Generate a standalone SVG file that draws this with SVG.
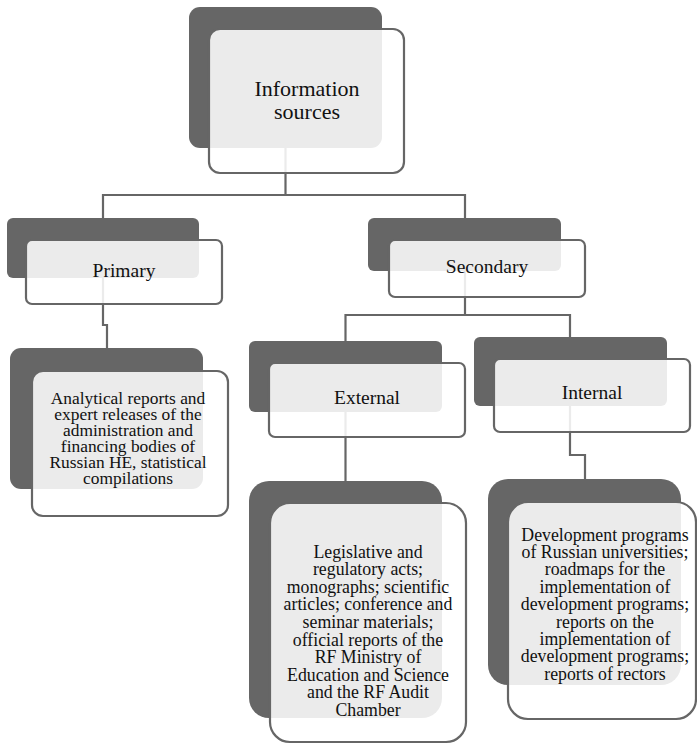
<svg xmlns="http://www.w3.org/2000/svg" width="697" height="744" viewBox="0 0 697 744" font-family="'Liberation Serif', 'Times New Roman', 'DejaVu Serif', serif">
<style>
.bg{fill:#fff}
.dk{fill:#666}
.fr{fill:#fff;fill-opacity:0.87;stroke:#666;stroke-width:2.2}
.cn{fill:none;stroke:#666;stroke-width:2.2}
text{font-family:'Liberation Serif','Times New Roman','DejaVu Serif',serif;fill:#111;text-anchor:middle}
.t0{font-size:22px}
.t1{font-size:19.5px}
.t2{font-size:17.8px}
.t3{font-size:17.4px}
</style>
<rect class="bg" x="0" y="0" width="697" height="744"/>
<g id="connectors">
<path class="cn" d="M285.5 148 V195 H103 V218"/>
<path class="cn" d="M285.5 195 H465 V218"/>
<path class="cn" d="M103 278 V325 H107 V348"/>
<path class="cn" d="M465 271 V315 H345.5 V341"/>
<path class="cn" d="M465 315 H570 V337"/>
<path class="cn" d="M345.5 412 V481"/>
<path class="cn" d="M570 406 V455 H585 V479"/>
</g>
<g id="node-root">
<rect class="dk" x="189" y="7" width="193" height="141" rx="11"/>
<rect class="fr" x="209" y="29" width="195" height="144" rx="11"/>
<text class="t0" x="307" y="96">Information</text>
<text class="t0" x="307" y="119">sources</text>
</g>
<g id="node-primary">
<rect class="dk" x="7" y="218" width="192" height="60" rx="6"/>
<rect class="fr" x="26" y="240" width="196" height="64" rx="6"/>
<text class="t1" x="124" y="277">Primary</text>
</g>
<g id="node-secondary">
<rect class="dk" x="368" y="218" width="193" height="53" rx="6"/>
<rect class="fr" x="389" y="240" width="196" height="57" rx="6"/>
<text class="t1" x="487" y="273">Secondary</text>
</g>
<g id="node-primary-child">
<rect class="dk" x="10" y="348" width="193" height="141" rx="11"/>
<rect class="fr" x="32" y="371" width="196" height="145" rx="11"/>
<text class="t3" x="128" y="403.5">Analytical reports and</text>
<text class="t3" x="128" y="419.5">expert releases of the</text>
<text class="t3" x="128" y="435.5">administration and</text>
<text class="t3" x="128" y="451.5">financing bodies of</text>
<text class="t3" x="128" y="467.5">Russian HE, statistical</text>
<text class="t3" x="128" y="483.5">compilations</text>
</g>
<g id="node-external">
<rect class="dk" x="249" y="341" width="193" height="71" rx="6"/>
<rect class="fr" x="269" y="363" width="196" height="74" rx="6"/>
<text class="t1" x="367" y="404">External</text>
</g>
<g id="node-internal">
<rect class="dk" x="474" y="337" width="193" height="69" rx="6"/>
<rect class="fr" x="494" y="359" width="196" height="73" rx="6"/>
<text class="t1" x="592" y="399">Internal</text>
</g>
<g id="node-external-child">
<rect class="dk" x="249" y="481" width="193" height="237" rx="20"/>
<rect class="fr" x="270" y="503" width="196" height="239" rx="20"/>
<text class="t2" x="368" y="557.5">Legislative and</text>
<text class="t2" x="368" y="575.1">regulatory acts;</text>
<text class="t2" x="368" y="592.7">monographs; scientific</text>
<text class="t2" x="368" y="610.3">articles; conference and</text>
<text class="t2" x="368" y="627.9">seminar materials;</text>
<text class="t2" x="368" y="645.5">official reports of the</text>
<text class="t2" x="368" y="663.1">RF Ministry of</text>
<text class="t2" x="368" y="680.7">Education and Science</text>
<text class="t2" x="368" y="698.3">and the RF Audit</text>
<text class="t2" x="368" y="715.9">Chamber</text>
</g>
<g id="node-internal-child">
<rect class="dk" x="488" y="479" width="193" height="206" rx="20"/>
<rect class="fr" x="508" y="502" width="188" height="217" rx="20"/>
<text class="t2" x="605" y="540.5">Development programs</text>
<text class="t2" x="605" y="557.9">of Russian universities;</text>
<text class="t2" x="605" y="575.3">roadmaps for the</text>
<text class="t2" x="605" y="592.7">implementation of</text>
<text class="t2" x="605" y="610.1">development programs;</text>
<text class="t2" x="605" y="627.5">reports on the</text>
<text class="t2" x="605" y="644.9">implementation of</text>
<text class="t2" x="605" y="662.3">development programs;</text>
<text class="t2" x="605" y="679.7">reports of rectors</text>
</g>
</svg>
